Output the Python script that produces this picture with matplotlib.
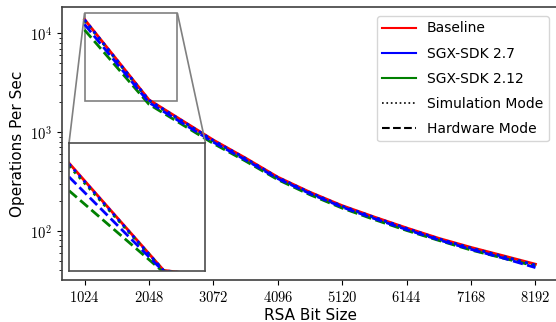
"""RSA operations per second for baseline and SGX-SDK builds."""

import math

import matplotlib
matplotlib.use('Agg')
import matplotlib.pyplot as plt
from matplotlib.lines import Line2D
from matplotlib.ticker import FixedLocator, FuncFormatter
from mpl_toolkits.axes_grid1.inset_locator import mark_inset


bit_sizes = [1024, 2048, 3072, 3584, 4096, 4608, 5120, 5632, 6144, 6656,
             7168, 7680, 8192]
tick_sizes = [1024, 2048, 3072, 4096, 5120, 6144, 7168, 8192]

baseline = [13800, 2120, 830, 545, 350, 246, 180, 138, 107, 84, 68, 56, 46]
sdk27_sim = [13700, 2100, 822, 540, 347, 244, 178, 137, 106, 83, 67, 55, 45]
sdk27_hw = [12300, 1990, 790, 522, 338, 238, 174, 133, 103, 81, 65, 53, 42.5]
sdk212_sim = [13500, 2080, 815, 535, 344, 242, 177, 136, 105, 82, 67, 55, 45]
sdk212_hw = [10800, 1910, 765, 508, 330, 232, 170, 130, 101, 80, 64, 53, 44]

zoom_x = (1024, 2500)
zoom_y = (2050, 16000)


def _main():
    plt.rcParams['mathtext.fontset'] = 'cm'
    plt.rcParams['font.family'] = 'DejaVu Sans'

    fig = plt.figure(figsize=(5.56, 3.22), dpi=100)
    ax = fig.add_axes([62 / 556, 42 / 322, 496 / 556, 273 / 322])

    _plot_lines(ax)
    ax.set_yscale('log')
    ax.margins(x=0.05)

    ax.xaxis.set_major_locator(FixedLocator(tick_sizes))
    ax.xaxis.set_major_formatter(FuncFormatter(lambda v, p: '$%d$' % v))
    ax.yaxis.set_major_formatter(
        FuncFormatter(lambda v, p: '$10^{%d}$' % round(math.log10(v))))
    ax.tick_params(labelsize=10.5)
    ax.set_xlabel('RSA Bit Size', fontsize=11, labelpad=2)
    ax.set_ylabel('Operations Per Sec', fontsize=11)
    for s in ax.spines.values():
        s.set_color('0.25')
        s.set_linewidth(1.2)

    handles = [
        Line2D([], [], color='red', lw=1.5, label='Baseline'),
        Line2D([], [], color='blue', lw=1.5, label='SGX-SDK 2.7'),
        Line2D([], [], color='green', lw=1.5, label='SGX-SDK 2.12'),
        Line2D([], [], color='black', lw=1.2, ls=':', label='Simulation Mode'),
        Line2D([], [], color='black', lw=1.5, ls='--', label='Hardware Mode'),
    ]
    ax.legend(handles=handles, loc='upper right', fontsize=10,
              labelspacing=0.8, handlelength=2.4,
              bbox_to_anchor=(0.995, 0.993))

    axins = ax.inset_axes([0.0142, 0.033, 0.275, 0.469])
    _plot_lines(axins)
    axins.set_xlim(*zoom_x)
    axins.set_ylim(*zoom_y)
    axins.set_xticks([])
    axins.set_yticks([])
    for s in axins.spines.values():
        s.set_color('0.3')
        s.set_linewidth(1.2)
    mark_inset(ax, axins, loc1=2, loc2=1, fc='none', ec='0.5', lw=1.2)

    fig.savefig('out.png', dpi=100)


def _plot_lines(ax):
    ax.plot(bit_sizes, baseline, color='red', lw=2)
    ax.plot(bit_sizes, sdk212_sim, color='green', lw=2, ls=':')
    ax.plot(bit_sizes, sdk212_hw, color='green', lw=2, ls='--')
    ax.plot(bit_sizes, sdk27_sim, color='blue', lw=2, ls=':')
    ax.plot(bit_sizes, sdk27_hw, color='blue', lw=2, ls='--')


if __name__ == '__main__':
    _main()
